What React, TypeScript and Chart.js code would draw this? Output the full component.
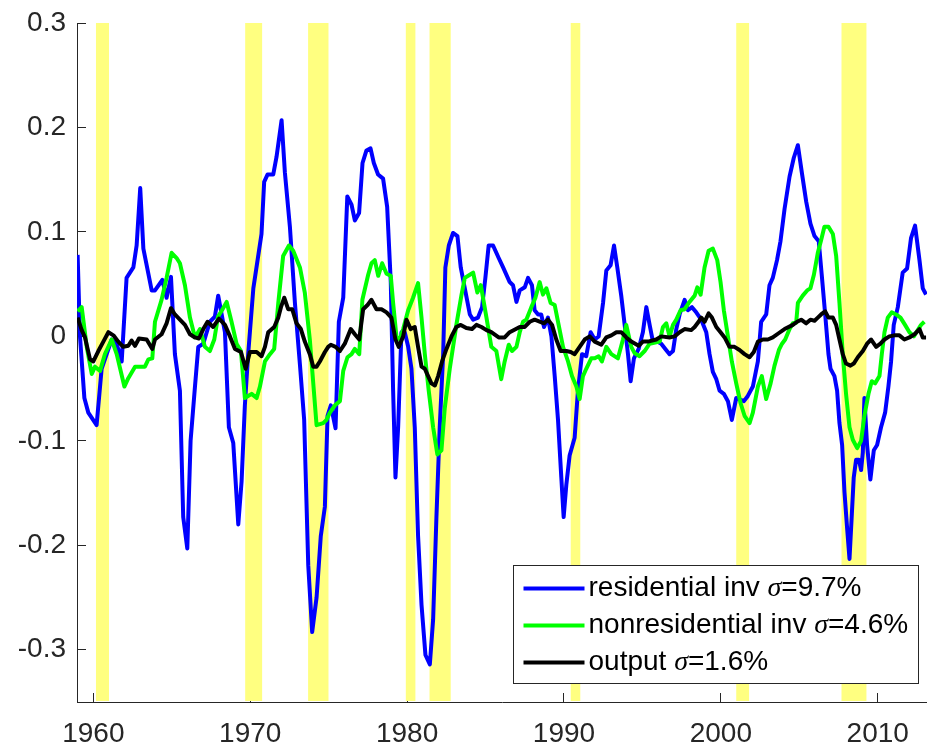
import React, { useEffect, useRef } from 'react';
import { Chart, registerables } from 'chart.js';

Chart.register(...registerables);

// ---------------- data ----------------
const resYears = [
  1959.0, 1959.15, 1959.43, 1959.68, 1960.21, 1960.53, 1960.85, 1961.17, 1961.49, 1961.81,
  1962.12, 1962.55, 1962.76, 1962.99, 1963.19, 1963.72, 1963.93, 1964.4, 1964.67, 1964.95,
  1965.2, 1965.52, 1965.73, 1965.99, 1966.2, 1966.48, 1966.69, 1967.01, 1967.43, 1967.75,
  1967.96, 1968.18, 1968.39, 1968.64, 1968.92, 1969.24, 1969.45, 1969.66, 1969.87, 1970.2,
  1970.47, 1970.72, 1970.89, 1971.11, 1971.47, 1971.68, 1972.0, 1972.21, 1972.53, 1972.85,
  1973.17, 1973.44, 1973.7, 1973.95, 1974.23, 1974.5, 1974.76, 1974.93, 1975.14, 1975.44,
  1975.65, 1975.93, 1976.19, 1976.46, 1976.67, 1976.94, 1977.16, 1977.41, 1977.67, 1977.88,
  1978.15, 1978.47, 1978.73, 1978.96, 1979.11, 1979.26, 1979.43, 1979.64, 1979.85, 1980.07,
  1980.28, 1980.49, 1980.7, 1980.92, 1981.17, 1981.45, 1981.66, 1981.87, 1982.08, 1982.3,
  1982.44, 1982.66, 1982.93, 1983.21, 1983.42, 1983.68, 1984.0, 1984.21, 1984.52, 1984.78,
  1984.99, 1985.2, 1985.48, 1985.84, 1986.12, 1986.54, 1986.75, 1986.97, 1987.18, 1987.5,
  1987.71, 1987.96, 1988.13, 1988.35, 1988.55, 1988.73, 1988.98, 1989.2, 1989.41, 1989.62,
  1989.83, 1989.98, 1990.15, 1990.36, 1990.68, 1990.89, 1991.15, 1991.42, 1991.7, 1991.96,
  1992.21, 1992.49, 1992.7, 1992.97, 1993.19, 1993.4, 1993.65, 1993.87, 1994.08, 1994.25,
  1994.46, 1994.76, 1995.03, 1995.25, 1995.46, 1995.67, 1995.95, 1996.2, 1996.46, 1996.73,
  1996.95, 1997.16, 1997.37, 1997.69, 1997.9, 1998.16, 1998.43, 1998.75, 1999.07, 1999.28,
  1999.49, 1999.71, 1999.92, 2000.19, 2000.45, 2000.7, 2000.98, 2001.47, 2001.72, 2002.04,
  2002.36, 2002.57, 2002.89, 2003.1, 2003.31, 2003.58, 2003.8, 2004.06, 2004.38, 2004.65,
  2004.91, 2005.16, 2005.44, 2005.71, 2005.97, 2006.24, 2006.43, 2006.65, 2006.86, 2006.99,
  2007.24, 2007.41, 2007.56, 2007.73, 2007.88, 2008.05, 2008.2, 2008.35, 2008.47, 2008.62,
  2008.8, 2008.94, 2009.05, 2009.15, 2009.32, 2009.53, 2009.75, 2009.96, 2010.21, 2010.47,
  2010.68, 2010.85, 2011.02, 2011.28, 2011.59, 2011.87, 2012.12, 2012.38, 2012.66, 2012.87,
  2013.08,
];
const resValues = [
  0.078, 0.0, -0.059, -0.073, -0.085, -0.031, -0.017, -0.003, -0.007, -0.024,
  0.056, 0.066, 0.087, 0.142, 0.084, 0.044, 0.044, 0.054, 0.037, 0.057,
  -0.017, -0.052, -0.173, -0.203, -0.1, -0.048, -0.01, -0.007, 0.014, 0.019,
  0.039, 0.021, 0.004, -0.087, -0.102, -0.18, -0.139, -0.066, -0.017, 0.046,
  0.073, 0.098, 0.148, 0.155, 0.155, 0.172, 0.207, 0.157, 0.105, 0.032,
  -0.027, -0.08, -0.219, -0.283, -0.25, -0.191, -0.163, -0.076, -0.066, -0.088,
  0.014, 0.037, 0.134, 0.126, 0.111, 0.118, 0.166, 0.178, 0.18, 0.166,
  0.155, 0.151, 0.124, 0.052, -0.052, -0.135, -0.087, 0.004, 0.004, -0.01,
  -0.031, -0.087, -0.191, -0.257, -0.305, -0.314, -0.271, -0.173, -0.087, -0.017,
  0.066, 0.087, 0.099, 0.096, 0.066, 0.046, 0.021, 0.016, 0.018, 0.028,
  0.056, 0.087, 0.087, 0.075, 0.066, 0.052, 0.049, 0.033, 0.044, 0.047,
  0.056, 0.049, 0.025, 0.021, 0.021, 0.009, 0.018, 0.0, -0.038, -0.08,
  -0.135, -0.173, -0.142, -0.114, -0.097, -0.052, -0.017, -0.019, 0.004, -0.003,
  0.0, 0.032, 0.063, 0.068, 0.087, 0.066, 0.039, 0.011, -0.017, -0.043,
  -0.021, -0.012, 0.004, 0.028, 0.011, -0.005, -0.005, -0.007, -0.012, -0.017,
  -0.014, 0.007, 0.021, 0.035, 0.025, 0.028, 0.023, 0.016, 0.004, -0.017,
  -0.034, -0.041, -0.052, -0.055, -0.062, -0.08, -0.059, -0.062, -0.057, -0.048,
  -0.024, 0.014, 0.021, 0.049, 0.056, 0.073, 0.091, 0.122, 0.153, 0.171,
  0.183, 0.157, 0.129, 0.108, 0.096, 0.091, 0.059, 0.021, -0.017, -0.031,
  -0.038, -0.052, -0.083, -0.104, -0.149, -0.184, -0.213, -0.17, -0.135, -0.118,
  -0.118, -0.128, -0.111, -0.059, -0.104, -0.137, -0.109, -0.104, -0.087, -0.073,
  -0.048, -0.024, 0.011, 0.028, 0.061, 0.065, 0.094, 0.106, 0.073, 0.046,
  0.04,
];

const nonresYears = [
  1959.0, 1959.26, 1959.58, 1959.9, 1960.11, 1960.43, 1960.74, 1961.17, 1961.49, 1961.98,
  1962.23, 1962.66, 1963.29, 1963.51, 1963.76, 1963.93, 1964.35, 1964.67, 1964.99, 1965.31,
  1965.52, 1965.84, 1966.16, 1966.48, 1966.8, 1967.11, 1967.43, 1967.71, 1967.95, 1968.2,
  1968.5, 1968.81, 1969.13, 1969.41, 1969.66, 1970.09, 1970.41, 1970.62, 1970.94, 1971.26,
  1971.53, 1971.79, 1972.1, 1972.47, 1972.74, 1973.17, 1973.48, 1973.8, 1974.02, 1974.23,
  1974.65, 1974.86, 1975.08, 1975.4, 1975.72, 1975.93, 1976.2, 1976.46, 1976.67, 1976.95,
  1977.15, 1977.52, 1977.73, 1977.94, 1978.16, 1978.41, 1978.69, 1978.96, 1979.11, 1979.32,
  1979.54, 1979.75, 1980.07, 1980.38, 1980.7, 1980.92, 1981.13, 1981.38, 1981.66, 1981.93,
  1982.19, 1982.4, 1982.72, 1982.93, 1983.14, 1983.46, 1983.68, 1984.0, 1984.21, 1984.48,
  1984.7, 1985.06, 1985.37, 1985.69, 1986.0, 1986.22, 1986.48, 1986.69, 1986.97, 1987.18,
  1987.39, 1987.6, 1987.92, 1988.18, 1988.45, 1988.66, 1988.88, 1989.15, 1989.41, 1989.66,
  1989.94, 1990.26, 1990.51, 1990.79, 1991.0, 1991.21, 1991.42, 1991.74, 1991.96, 1992.21,
  1992.42, 1992.7, 1993.02, 1993.44, 1993.76, 1993.97, 1994.29, 1994.5, 1994.82, 1995.14,
  1995.46, 1996.1, 1996.31, 1996.52, 1996.73, 1996.95, 1997.16, 1997.43, 1997.69, 1998.0,
  1998.33, 1998.5, 1998.71, 1998.96, 1999.22, 1999.49, 1999.77, 1999.98, 2000.19, 2000.45,
  2000.7, 2000.98, 2001.26, 2001.51, 2001.83, 2002.04, 2002.36, 2002.61, 2002.89, 2003.17,
  2003.42, 2003.7, 2003.9, 2004.1, 2004.38, 2004.59, 2004.8, 2004.91, 2005.22, 2005.5,
  2005.71, 2005.93, 2006.18, 2006.39, 2006.6, 2006.86, 2007.14, 2007.35, 2007.56, 2007.77,
  2007.98, 2008.2, 2008.41, 2008.69, 2008.94, 2009.15, 2009.41, 2009.62, 2009.83, 2010.11,
  2010.26, 2010.43, 2010.64, 2010.89, 2011.17, 2011.45, 2011.74, 2012.02, 2012.3, 2012.55,
  2012.76, 2012.97,
];
const nonresValues = [
  0.024, 0.028, -0.01, -0.036, -0.029, -0.033, -0.017, -0.003, -0.017, -0.048,
  -0.04, -0.029, -0.029, -0.022, -0.021, 0.014, 0.035, 0.056, 0.08, 0.075,
  0.07, 0.049, 0.018, -0.001, 0.007, -0.01, -0.014, -0.003, 0.019, 0.025,
  0.033, 0.014, -0.007, -0.014, -0.059, -0.055, -0.059, -0.048, -0.024, -0.017,
  -0.012, 0.032, 0.077, 0.087, 0.082, 0.066, 0.042, -0.003, -0.045, -0.085,
  -0.083, -0.08, -0.073, -0.066, -0.062, -0.033, -0.02, -0.017, -0.012, -0.017,
  0.035, 0.059, 0.07, 0.073, 0.058, 0.07, 0.06, 0.058, 0.032, 0.0,
  -0.003, 0.007, 0.025, 0.037, 0.051, 0.018, -0.017, -0.052, -0.087, -0.113,
  -0.109, -0.069, -0.031, -0.01, 0.011, 0.039, 0.056, 0.059, 0.061, 0.042,
  0.049, 0.018, -0.01, -0.014, -0.041, -0.024, -0.008, -0.014, -0.01, 0.004,
  0.014, 0.016, 0.028, 0.037, 0.052, 0.04, 0.046, 0.032, 0.03, 0.011,
  -0.01, -0.024, -0.038, -0.048, -0.06, -0.038, -0.031, -0.021, -0.021, -0.019,
  -0.024, -0.01, -0.017, -0.021, -0.003, 0.011, -0.01, -0.016, -0.019, -0.014,
  -0.007, -0.005, 0.009, 0.0125, 0.0, 0.011, 0.016, 0.025, 0.026, 0.033,
  0.039, 0.047, 0.04, 0.066, 0.082, 0.084, 0.073, 0.052, 0.025, 0.0,
  -0.024, -0.045, -0.064, -0.076, -0.083, -0.073, -0.048, -0.038, -0.06, -0.045,
  -0.028, -0.013, -0.007, -0.003, 0.007, 0.0125, 0.013, 0.032, 0.039, 0.044,
  0.046, 0.059, 0.08, 0.092, 0.105, 0.105, 0.098, 0.077, 0.032, -0.017,
  -0.055, -0.087, -0.099, -0.107, -0.1, -0.076, -0.055, -0.043, -0.045, -0.038,
  -0.017, 0.004, 0.018, 0.023, 0.021, 0.018, 0.011, 0.004, 0.0, 0.006,
  0.011, 0.014,
];

const outYears = [
  1959.0, 1959.26, 1959.47, 1959.79, 1960.0, 1960.32, 1960.64, 1960.96, 1961.28, 1961.59,
  1961.91, 1962.23, 1962.44, 1962.66, 1962.91, 1963.4, 1963.76, 1963.93, 1964.35, 1964.67,
  1964.95, 1965.2, 1965.52, 1965.84, 1966.16, 1966.48, 1966.73, 1967.01, 1967.28, 1967.64,
  1968.01, 1968.39, 1968.71, 1969.03, 1969.41, 1969.71, 1969.98, 1970.41, 1970.72, 1970.94,
  1971.15, 1971.53, 1971.79, 1971.96, 1972.17, 1972.42, 1972.68, 1972.95, 1973.23, 1973.48,
  1973.8, 1974.02, 1974.23, 1974.44, 1974.76, 1974.97, 1975.14, 1975.44, 1975.72, 1976.03,
  1976.41, 1976.67, 1976.95, 1977.2, 1977.48, 1977.73, 1978.05, 1978.37, 1978.69, 1979.0,
  1979.26, 1979.47, 1979.75, 1979.96, 1980.23, 1980.49, 1980.7, 1980.92, 1981.13, 1981.34,
  1981.55, 1981.77, 1981.98, 1982.23, 1982.51, 1982.83, 1983.14, 1983.42, 1983.78, 1984.14,
  1984.42, 1984.74, 1985.06, 1985.37, 1985.84, 1986.22, 1986.54, 1987.18, 1987.5, 1987.82,
  1988.13, 1988.73, 1988.98, 1989.24, 1989.51, 1989.79, 1990.15, 1990.43, 1990.68, 1991.0,
  1991.32, 1991.64, 1991.96, 1992.38, 1992.7, 1993.02, 1993.34, 1993.65, 1993.97, 1994.29,
  1994.76, 1995.03, 1995.35, 1995.88, 1996.2, 1996.73, 1997.05, 1997.37, 1997.69, 1998.11,
  1998.33, 1998.58, 1998.75, 1998.96, 1999.22, 1999.43, 1999.71, 1999.98, 2000.24, 2000.55,
  2000.87, 2001.19, 2001.51, 2001.83, 2002.1, 2002.36, 2002.68, 2003.0, 2003.31, 2003.68,
  2004.06, 2004.59, 2004.86, 2005.12, 2005.44, 2005.71, 2005.97, 2006.18, 2006.39, 2006.65,
  2006.86, 2007.14, 2007.35, 2007.56, 2007.77, 2007.98, 2008.26, 2008.47, 2008.73, 2009.05,
  2009.32, 2009.58, 2009.9, 2010.17, 2010.43, 2010.74, 2011.06, 2011.38, 2011.7, 2012.02,
  2012.34, 2012.66, 2012.87, 2013.08,
];
const outValues = [
  0.018, 0.006, -0.001, -0.022, -0.024, -0.014, -0.005, 0.004, 0.001, -0.005,
  -0.01, -0.009, -0.004, -0.009, -0.002, -0.003, -0.012, -0.003, 0.002, 0.0125,
  0.027, 0.021, 0.016, 0.011, 0.002, -0.001, -0.002, 0.007, 0.014, 0.009,
  0.017, 0.011, 0.0, -0.012, -0.015, -0.031, -0.015, -0.015, -0.019, -0.01,
  0.004, 0.009, 0.018, 0.028, 0.037, 0.026, 0.026, 0.0125, 0.007, -0.005,
  -0.017, -0.029, -0.029, -0.024, -0.015, -0.01, -0.008, -0.01, -0.014, -0.007,
  0.007, 0.002, -0.003, 0.026, 0.03, 0.035, 0.026, 0.026, 0.023, 0.018,
  -0.003, -0.01, 0.0, 0.016, 0.007, 0.009, -0.01, -0.029, -0.031, -0.038,
  -0.045, -0.047, -0.038, -0.024, -0.012, 0.0, 0.009, 0.011, 0.008, 0.007,
  0.011, 0.009, 0.006, 0.004, -0.001, -0.001, 0.004, 0.009, 0.009, 0.014,
  0.016, 0.0125, 0.016, 0.011, -0.003, -0.014, -0.014, -0.015, -0.017, -0.01,
  -0.003, 0.0, -0.005, -0.008, -0.001, 0.001, 0.004, 0.004, -0.001, -0.005,
  -0.009, -0.005, -0.005, -0.003, 0.0, -0.001, 0.0, 0.004, 0.007, 0.006,
  0.009, 0.014, 0.018, 0.014, 0.022, 0.018, 0.009, 0.004, -0.001, -0.01,
  -0.01, -0.013, -0.017, -0.02, -0.015, -0.005, -0.003, -0.003, -0.001, 0.003,
  0.007, 0.011, 0.014, 0.016, 0.0125, 0.016, 0.015, 0.018, 0.021, 0.024,
  0.018, 0.018, 0.011, -0.003, -0.017, -0.026, -0.028, -0.026, -0.02, -0.014,
  -0.007, -0.003, -0.01, -0.007, -0.003, 0.0, 0.001, 0.001, -0.003, -0.001,
  0.002, 0.007, -0.001, -0.001,
];

const recessionStart = [1960.17, 1969.68, 1973.69, 1979.92, 1981.43, 1990.43, 2000.98, 2007.69];
const recessionEnd = [1961.0, 1970.76, 1974.99, 1980.53, 1982.78, 1991.04, 2001.8, 2009.28];

const xTickValues = [1960, 1970, 1980, 1990, 2000, 2010];
const xTickLabels = ['1960', '1970', '1980', '1990', '2000', '2010'];
const yTickValues = [-0.3, -0.2, -0.1, 0, 0.1, 0.2, 0.3];
const yTickLabels = ['-0.3', '-0.2', '-0.1', '0', '0.1', '0.2', '0.3'];

const seriesNames = ['residential inv', 'nonresidential inv', 'output'];
const seriesSigmas = ['9.7%', '4.6%', '1.6%'];
const seriesColors = ['#0000FF', '#00FF00', '#000000'];

// ---------------- helpers ----------------
const toPoints = (xs: number[], ys: number[]) => xs.map((x, i) => ({ x, y: ys[i] }));

const AXIS_COLOR = '#262626';
const SANS = '"Liberation Sans", Arial, Helvetica, sans-serif';
const SERIF = '"Liberation Serif", "Times New Roman", serif';
const LINE_W = 4;

const recessionPlugin = {
  id: 'recessionBands',
  beforeDatasetsDraw(chart: any) {
    const { ctx, chartArea, scales } = chart;
    const x = scales.x;
    ctx.save();
    ctx.fillStyle = '#FFFF80';
    recessionStart.forEach((s, i) => {
      const x1 = x.getPixelForValue(s);
      const x2 = x.getPixelForValue(recessionEnd[i]);
      ctx.fillRect(x1, chartArea.top, x2 - x1, chartArea.bottom - chartArea.top - 1);
    });
    ctx.restore();
  },
};

const legendPlugin = {
  id: 'matlabLegend',
  afterDraw(chart: any) {
    const { ctx, chartArea } = chart;
    const fontSize = 28;
    const sansFont = `${fontSize}px ${SANS}`;
    const sigmaFont = `italic ${fontSize}px ${SERIF}`;
    ctx.save();
    const rows = seriesNames.map((name, i) => {
      ctx.font = sansFont;
      const a = name + ' ';
      const wa = ctx.measureText(a).width;
      ctx.font = sigmaFont;
      const ws = ctx.measureText('σ').width;
      ctx.font = sansFont;
      const b = '=' + seriesSigmas[i];
      const wb = ctx.measureText(b).width;
      return { a, b, wa, ws, wb, total: wa + ws + wb };
    });
    const maxW = Math.max(...rows.map((r) => r.total));
    const padL = 10, lineLen = 61, gap = 4, padR = 10;
    const boxW = padL + lineLen + gap + maxW + padR;
    const rowH = 37;
    const boxH = 118;
    const right = chartArea.right - 9;
    const bottom = chartArea.bottom - 19;
    const left = Math.round(right - boxW) + 0.5;
    const top = Math.round(bottom - boxH) + 0.5;
    ctx.fillStyle = '#ffffff';
    ctx.fillRect(left, top, boxW, boxH);
    ctx.strokeStyle = AXIS_COLOR;
    ctx.lineWidth = 1;
    ctx.strokeRect(left, top, Math.round(boxW), boxH);
    rows.forEach((r, i) => {
      const cy = top + 23 + i * rowH;
      ctx.strokeStyle = seriesColors[i];
      ctx.lineWidth = LINE_W;
      ctx.beginPath();
      ctx.moveTo(left + padL, cy);
      ctx.lineTo(left + padL + lineLen, cy);
      ctx.stroke();
      let tx = left + padL + lineLen + gap;
      ctx.fillStyle = '#000000';
      ctx.textBaseline = 'middle';
      ctx.textAlign = 'left';
      ctx.font = sansFont;
      ctx.fillText(r.a, tx, cy);
      tx += r.wa;
      ctx.font = sigmaFont;
      ctx.fillText('σ', tx, cy);
      tx += r.ws;
      ctx.font = sansFont;
      ctx.fillText(r.b, tx, cy);
    });
    ctx.restore();
  },
};

export default function App() {
  const canvasRef = useRef<HTMLCanvasElement | null>(null);

  useEffect(() => {
    if (!canvasRef.current) return;
    const lineDs = (label: string, data: any[], color: string, order: number) => ({
      label,
      data,
      borderColor: color,
      backgroundColor: color,
      borderWidth: LINE_W,
      pointRadius: 0,
      pointHoverRadius: 0,
      tension: 0,
      fill: false,
      order,
      borderJoinStyle: 'round' as const,
    });
    const chart = new Chart(canvasRef.current, {
      type: 'line',
      data: {
        datasets: [
          lineDs(seriesNames[0], toPoints(resYears, resValues), seriesColors[0], 3),
          lineDs(seriesNames[1], toPoints(nonresYears, nonresValues), seriesColors[1], 2),
          lineDs(seriesNames[2], toPoints(outYears, outValues), seriesColors[2], 1),
        ],
      },
      options: {
        animation: false,
        responsive: false,
        devicePixelRatio: 1,
        parsing: false,
        normalized: true,
        layout: { padding: { top: 23, right: 0, left: 0, bottom: 0 } },
        plugins: {
          legend: { display: false },
          tooltip: { enabled: false },
        },
        scales: {
          x: {
            type: 'linear',
            min: 1958.96,
            max: 2013.14,
            afterBuildTicks: (scale: any) => {
              scale.ticks = xTickValues.map((v) => ({ value: v }));
            },
            afterFit: (scale: any) => {
              scale.height = 45;
              scale.paddingLeft = 0;
              scale.paddingRight = 0;
            },
            ticks: {
              autoSkip: false,
              maxRotation: 0,
              padding: 24,
              color: AXIS_COLOR,
              font: { family: SANS, size: 28 },
              callback: (_v: any, i: number) => xTickLabels[i],
            },
            grid: {
              drawOnChartArea: false,
              drawTicks: true,
              tickLength: -9,
              color: AXIS_COLOR,
              lineWidth: 1,
            },
            border: { display: true, color: AXIS_COLOR, width: 1 },
          },
          y: {
            type: 'linear',
            min: -0.35,
            max: 0.3,
            afterBuildTicks: (scale: any) => {
              scale.ticks = yTickValues.map((v) => ({ value: v }));
            },
            afterFit: (scale: any) => {
              scale.width = 77;
              scale.paddingTop = 0;
              scale.paddingBottom = 0;
            },
            ticks: {
              autoSkip: false,
              padding: 20,
              color: AXIS_COLOR,
              font: { family: SANS, size: 28 },
              callback: (_v: any, i: number) => yTickLabels[i],
            },
            grid: {
              drawOnChartArea: false,
              drawTicks: true,
              tickLength: -9,
              color: AXIS_COLOR,
              lineWidth: 1,
            },
            border: { display: true, color: AXIS_COLOR, width: 1 },
          },
        },
      },
      plugins: [recessionPlugin, legendPlugin],
    } as any);
    return () => chart.destroy();
  }, []);

  return (
    <div style={{ position: 'absolute', left: 0, top: 0, width: 927, height: 747, background: '#ffffff' }}>
      <canvas ref={canvasRef} width={927} height={747} style={{ display: 'block', width: 927, height: 747 }} />
    </div>
  );
}
